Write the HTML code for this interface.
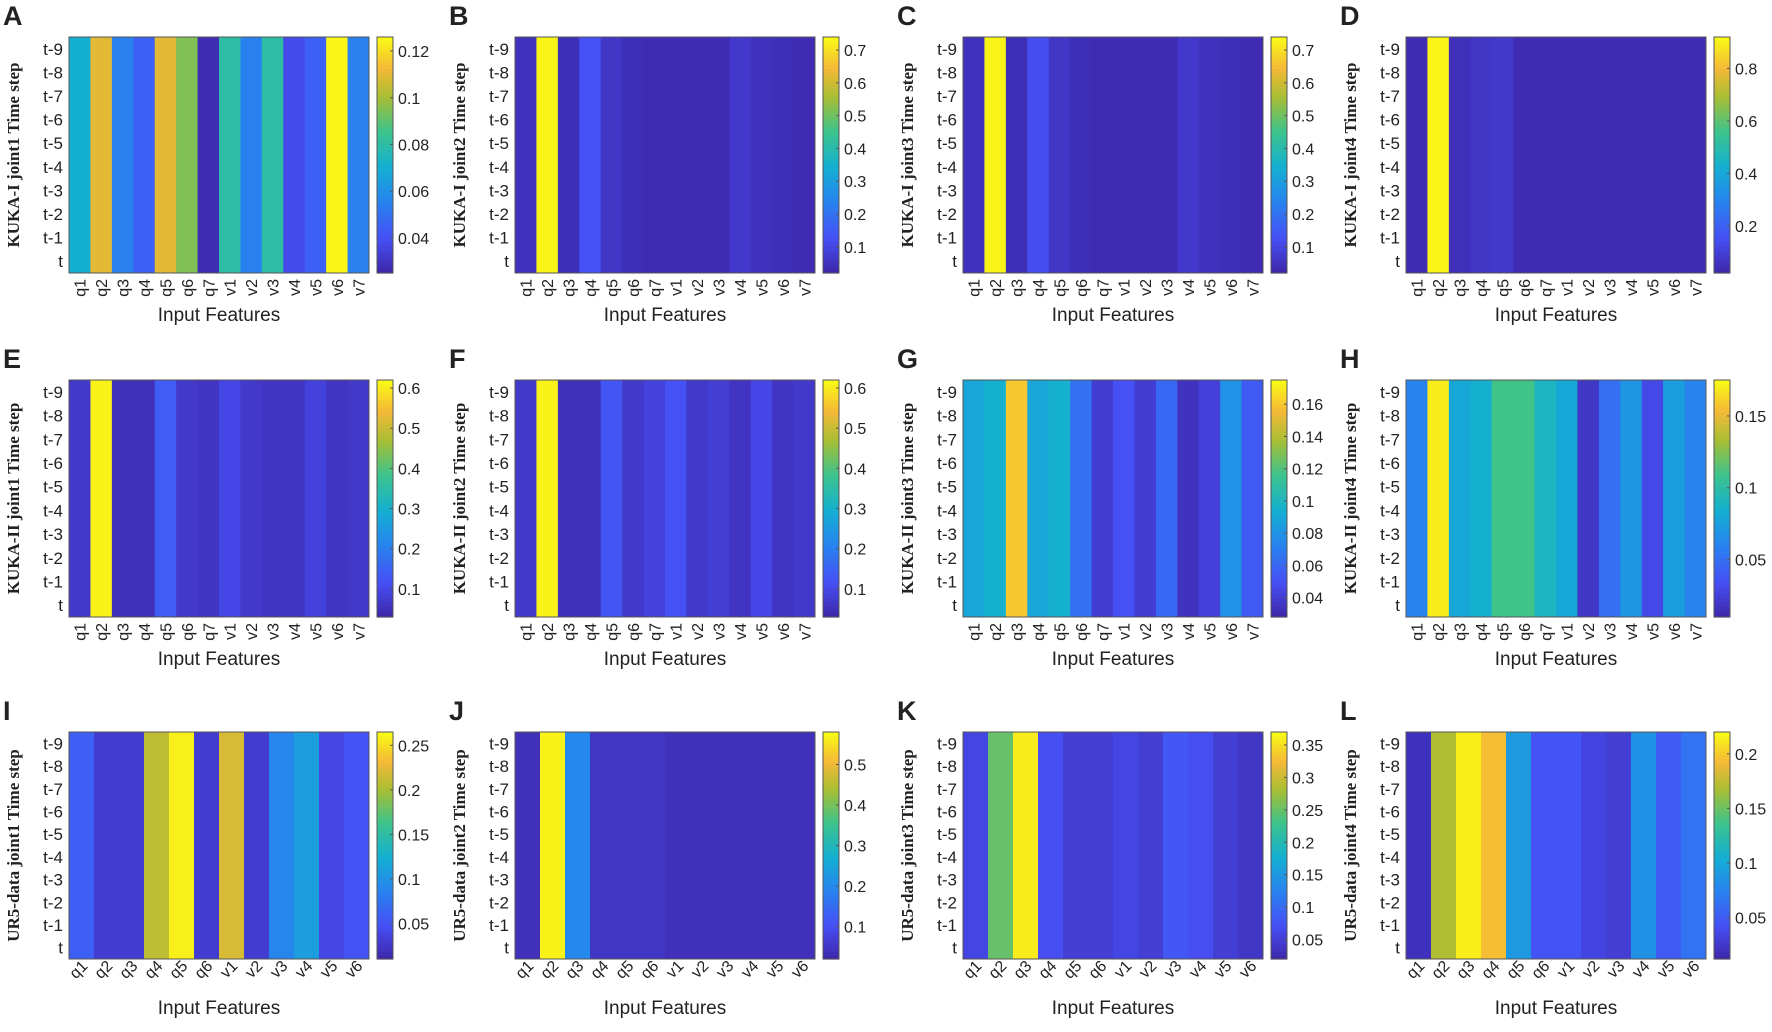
<!DOCTYPE html>
<html><head><meta charset="utf-8"><style>
html,body{margin:0;padding:0;background:#fff;}
svg text{font-family:"Liberation Sans",sans-serif;fill:#222;}
</style></head><body>
<svg id="fig" width="1772" height="1027" viewBox="0 0 1772 1027" xmlns="http://www.w3.org/2000/svg"></svg>
<script>
const rowLabels = ["t-9","t-8","t-7","t-6","t-5","t-4","t-3","t-2","t-1","t"];
const featsKuka = ["q1","q2","q3","q4","q5","q6","q7","v1","v2","v3","v4","v5","v6","v7"];
const featsUR5 = ["q1","q2","q3","q4","q5","q6","v1","v2","v3","v4","v5","v6"];
const panelLetters = ["A","B","C","D","E","F","G","H","I","J","K","L"];
const panelTitles = ["KUKA-I joint1 Time step","KUKA-I joint2 Time step","KUKA-I joint3 Time step","KUKA-I joint4 Time step",
 "KUKA-II joint1 Time step","KUKA-II joint2 Time step","KUKA-II joint3 Time step","KUKA-II joint4 Time step",
 "UR5-data joint1 Time step","UR5-data joint2 Time step","UR5-data joint3 Time step","UR5-data joint4 Time step"];
const valsA = [0.07,0.11,0.055,0.045,0.11,0.095,0.027,0.08,0.055,0.08,0.038,0.045,0.125,0.055];
const valsB = [0.05,0.73,0.04,0.13,0.06,0.04,0.035,0.035,0.035,0.035,0.07,0.05,0.04,0.035];
const valsC = [0.05,0.73,0.04,0.12,0.06,0.04,0.035,0.035,0.035,0.035,0.07,0.05,0.04,0.035];
const valsD = [0.04,0.91,0.05,0.07,0.08,0.04,0.04,0.04,0.04,0.04,0.04,0.04,0.04,0.04];
const valsE = [0.07,0.61,0.05,0.05,0.14,0.07,0.06,0.1,0.07,0.06,0.06,0.09,0.06,0.07];
const valsF = [0.07,0.61,0.05,0.05,0.13,0.07,0.09,0.12,0.07,0.08,0.06,0.1,0.06,0.07];
const valsG = [0.09,0.095,0.16,0.09,0.095,0.065,0.04,0.05,0.04,0.06,0.035,0.042,0.08,0.055];
const valsH = [0.06,0.17,0.08,0.085,0.11,0.11,0.09,0.08,0.02,0.05,0.07,0.03,0.075,0.06];
const valsI = [0.06,0.03,0.03,0.21,0.26,0.03,0.22,0.03,0.09,0.11,0.04,0.05];
const valsJ = [0.04,0.57,0.2,0.05,0.05,0.05,0.04,0.04,0.04,0.04,0.04,0.04];
const valsK = [0.06,0.25,0.36,0.07,0.05,0.05,0.06,0.05,0.08,0.07,0.05,0.04];
const valsL = [0.02,0.17,0.215,0.195,0.09,0.045,0.045,0.035,0.03,0.085,0.05,0.065];
const cbMin = [0.025,0.02,0.02,0.02,0.03,0.03,0.028,0.01,0.01,0.02,0.02,0.012];
const cbMax = [0.126,0.74,0.74,0.92,0.62,0.62,0.175,0.175,0.265,0.58,0.37,0.22];
const cbTicks = [[0.04,0.06,0.08,0.1,0.12],[0.1,0.2,0.3,0.4,0.5,0.6,0.7],[0.1,0.2,0.3,0.4,0.5,0.6,0.7],[0.2,0.4,0.6,0.8],
 [0.1,0.2,0.3,0.4,0.5,0.6],[0.1,0.2,0.3,0.4,0.5,0.6],[0.04,0.06,0.08,0.1,0.12,0.14,0.16],[0.05,0.1,0.15],
 [0.05,0.1,0.15,0.2,0.25],[0.1,0.2,0.3,0.4,0.5],[0.05,0.1,0.15,0.2,0.25,0.3,0.35],[0.05,0.1,0.15,0.2]];
const allVals = [valsA,valsB,valsC,valsD,valsE,valsF,valsG,valsH,valsI,valsJ,valsK,valsL];

const stops=[[0,62,38,168],[0.15,70,80,245],[0.3,40,130,240],[0.45,20,175,210],[0.6,60,195,140],[0.75,170,190,50],[0.87,245,185,55],[1,249,251,20]];
function parula(t){t=Math.max(0,Math.min(1,t));for(let i=1;i<stops.length;i++){if(t<=stops[i][0]){const a=stops[i-1],b=stops[i];const f=(t-a[0])/(b[0]-a[0]);return `rgb(${Math.round(a[1]+f*(b[1]-a[1]))},${Math.round(a[2]+f*(b[2]-a[2]))},${Math.round(a[3]+f*(b[3]-a[3]))})`;}}return 'rgb(249,251,20)';}
const NS="http://www.w3.org/2000/svg";
const svg=document.getElementById('fig');
function mk(tag,attrs,parent){const e=document.createElementNS(NS,tag);for(const k in attrs)e.setAttribute(k,attrs[k]);(parent||svg).appendChild(e);return e;}
const colX=[69,515,963,1406];
const rowY=[[37,273],[380,617],[732,959]];
const W=300;
for(let p=0;p<12;p++){
 const r=Math.floor(p/4),c=p%4;
 const x0=colX[c],y0=rowY[r][0],y1=rowY[r][1],H=y1-y0;
 const feats=r<2?featsKuka:featsUR5;
 const vals=allVals[p];
 const g=mk('g',{});
 
 
 const xs=i=>x0+i*W/feats.length;
 const cw=W/feats.length;
 const cmap=v=>parula((v-cbMin[p])/(cbMax[p]-cbMin[p]));
 for(let i=0;i<feats.length;i++){
  const rc=mk('rect',{x:xs(i),y:y0,width:cw+0.5,height:H,fill:cmap(vals[i])},g);
  
  
 }
 mk('rect',{x:x0,y:y0,width:W,height:H,fill:'none',stroke:'#555','stroke-width':1},g);
 const L=mk('text',{x:x0-66,y:y0-12,'font-size':27,'font-weight':'bold',fill:'#000'},g);
 L.textContent=panelLetters[p];
 
 
 for(let j=0;j<10;j++){
  const yy=y0+(j+0.5)*H/10;
  const t=mk('text',{x:x0-6,y:yy+6,'font-size':17,'text-anchor':'end'},g);
  t.textContent=rowLabels[j];
  
  
 }
 const cy=(y0+y1)/2,cx=x0-50;
 const yt=mk('text',{x:cx,y:cy,'font-size':17,'font-weight':'bold','text-anchor':'middle',transform:`rotate(-90 ${cx} ${cy})`,style:'font-family:"Liberation Serif",serif',fill:'#111'},g);
 yt.textContent=panelTitles[p];
 
 
 for(let i=0;i<feats.length;i++){
  const tx=xs(i)+cw/2;
  let t;
  if(r<2){
   t=mk('text',{x:tx+6,y:y1+6,'font-size':16,'text-anchor':'end',transform:`rotate(-90 ${tx+6} ${y1+6})`},g);
  } else {
   t=mk('text',{x:tx+7,y:y1+8,'font-size':16,'text-anchor':'end',transform:`rotate(-45 ${tx+7} ${y1+8})`},g);
  }
  t.textContent=feats[i];
  
  
 }
 const xl=mk('text',{x:x0+W/2,y:r<2?y1+48:y1+55,'font-size':19,'text-anchor':'middle'},g);
 xl.textContent='Input Features';
 
 
 const cbx=x0+W+8,cbw=16;
 for(let k=0;k<60;k++){
  const yy=y1-(k+1)*H/60;
  mk('rect',{x:cbx,y:yy,width:cbw,height:H/60+0.6,fill:parula((k+0.5)/60)},g);
 }
 const cb=mk('rect',{x:cbx,y:y0,width:cbw,height:H,fill:'none',stroke:'#555','stroke-width':1},g);
 
 
 for(const tv of cbTicks[p]){
  const yy=y1-(tv-cbMin[p])/(cbMax[p]-cbMin[p])*H;
  mk('line',{x1:cbx+cbw-3,x2:cbx+cbw,y1:yy,y2:yy,stroke:'#555'},g);
  const t=mk('text',{x:cbx+cbw+5,y:yy+6,'font-size':16},g);
  t.textContent=String(tv);
  
  
 }
}
</script>
</body></html>
